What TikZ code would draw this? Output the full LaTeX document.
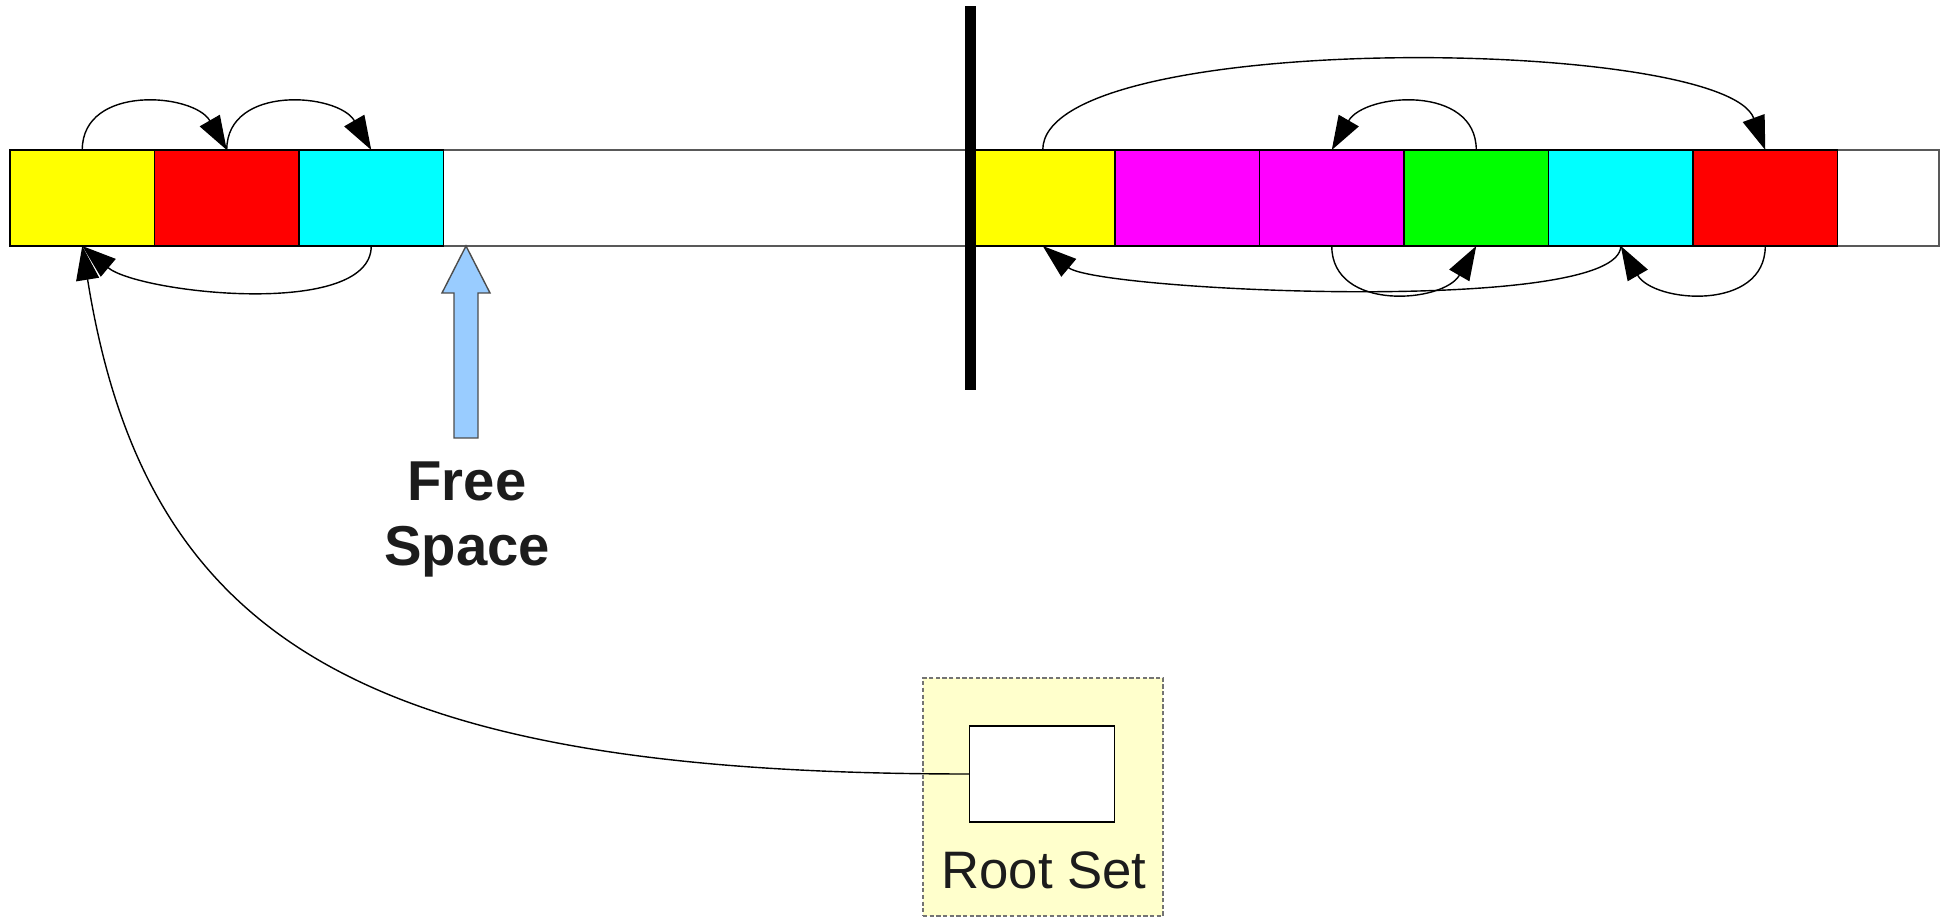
\documentclass[tikz,border=0pt]{standalone}
\usepackage{fontspec}
\setmainfont{Liberation Sans}
\usepackage{tikz}
\usetikzlibrary{positioning,arrows.meta,calc}
\definecolor{freeblue}{HTML}{99CCFF}
\definecolor{rootyellow}{HTML}{FFFFCC}
\definecolor{labgray}{HTML}{1C1C1C}
\definecolor{objyellow}{HTML}{FFFF00}
\definecolor{objred}{HTML}{FF0000}
\definecolor{objcyan}{HTML}{00FFFF}
\definecolor{objmagenta}{HTML}{FF00FF}
\definecolor{objgreen}{HTML}{00FF00}
\tikzset{
  >={Triangle[length=3.4mm,width=2.3mm]},
}

\begin{document}
\begin{tikzpicture}[
  every node/.style={inner sep=0pt,outer sep=0pt},
  cell/.style={draw,minimum width=1.445cm,minimum height=0.96cm},
  ptr/.style={->,line width=0.4pt},
  lab/.style={text=labgray,align=center}
]
\useasboundingbox (0,0) rectangle (19.41,9.18);

\node[draw=black!65,minimum width=19.29cm,minimum height=0.96cm] (heap) at (9.745,7.20) {};

% left half
\node[cell,fill=objyellow,anchor=west] (y0) at (heap.west) {};
\node[cell,fill=objred,right=0pt of y0] (r0) {};
\node[cell,fill=objcyan,right=0pt of r0] (c0) {};

% right half
\node[cell,fill=objyellow] (y1) at (10.4275,7.20) {};
\node[cell,fill=objmagenta,right=0pt of y1] (m1) {};
\node[cell,fill=objmagenta,right=0pt of m1] (m2) {};
\node[cell,fill=objgreen,right=0pt of m2] (g1) {};
\node[cell,fill=objcyan,right=0pt of g1] (c1) {};
\node[cell,fill=objred,right=0pt of c1] (r1) {};

\node[fill=black,minimum width=0.11cm,minimum height=3.84cm] (divider) at (9.705,7.20) {};

\draw[ptr] (y0.north) to[out=90,in=120,looseness=1.17] (r0.north);
\draw[ptr] (r0.north) to[out=90,in=120,looseness=1.17] (c0.north);
\draw[ptr] (c0.south) to[out=-90,in=-40,looseness=0.65] (y0.south);

\draw[ptr] (y1.north) to[out=90,in=110,looseness=0.43] (r1.north);
\draw[ptr] (g1.north) to[out=90,in=60,looseness=1.17] (m2.north);
\draw[ptr] (c1.south) to[out=-90,in=-40,looseness=0.31] (y1.south);
\draw[ptr] (m2.south) to[out=-90,in=-120,looseness=1.17] (g1.south);
\draw[ptr] (r1.south) to[out=-90,in=-60,looseness=1.17] (c1.south);

% free space pointer
\coordinate (freetip) at (4.66,6.72);
\draw[fill=freeblue,draw=black!70,line width=0.4pt] (4.54,4.80) -- (4.54,6.25) -- (4.42,6.25)
  -- (freetip) -- (4.90,6.25) -- (4.78,6.25) -- (4.78,4.80) -- cycle;
\node[lab,anchor=north,font=\bfseries\fontsize{16}{18.4}\selectfont] (freelab) at (4.67,4.56)
  {Free\\Space};

% root set
\node[draw=black!55,dash pattern=on 1.2pt off 0.7pt,fill=rootyellow,
  minimum width=2.40cm,minimum height=2.38cm] (rootset) at (10.43,1.21) {};
\node[cell,fill=white] (rootptr) at (10.42,1.44) {};
\node[lab,anchor=base,font=\fontsize{15}{18}\selectfont] (rootlab) at (10.44,0.30) {Root Set};

\draw[ptr] (rootptr.west) .. controls +(-6,0) and +(0.64,-4) .. (y0.south);

\end{tikzpicture}
\end{document}
